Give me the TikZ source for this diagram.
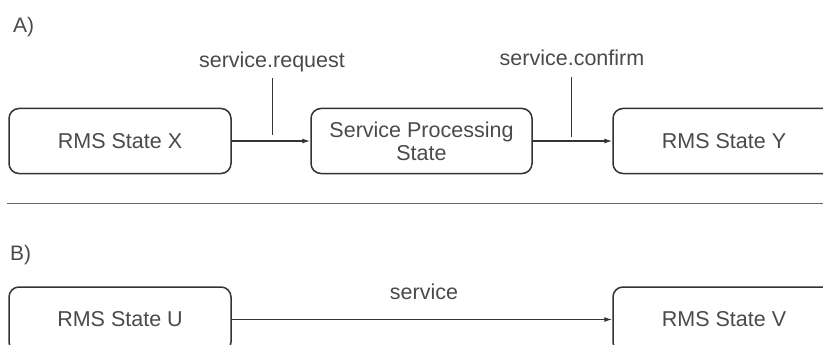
\documentclass[tikz,border=0pt]{standalone}
\usepackage{fontspec}
\setmainfont{Liberation Sans}
\usetikzlibrary{arrows.meta}
\definecolor{ink}{HTML}{333333}
\definecolor{txt}{HTML}{4a4a4a}
\definecolor{sep}{HTML}{666666}
\tikzset{
  state/.style={draw=ink, line width=1.5pt, rounded corners=10pt, minimum height=65pt, align=center, text=txt, font=\fontsize{21.5}{23}\selectfont, inner sep=0pt},
  conn/.style={draw=ink, line width=1.3pt, -{Latex[length=8pt,width=5pt]}},
  tick/.style={draw=ink, line width=1pt},
  lbl/.style={text=txt, font=\fontsize{21.5}{24}\selectfont, inner sep=0pt},
  hdr/.style={text=txt, font=\fontsize{21}{24}\selectfont, inner sep=0pt, anchor=west}
}
\begin{document}
\begin{tikzpicture}[x=1pt,y=-1pt]
\useasboundingbox (0,0) rectangle (823,345);
\clip (0,0) rectangle (823,345);
\node[hdr] (ha) at (13,27) {A)};
\node[state, minimum width=222pt] (X) at (120,141) {RMS State X};
\node[state, minimum width=221pt] (SP) at (421.5,141) {Service Processing\\State};
\node[state, minimum width=222pt] (Y) at (724,141) {RMS State Y};
\draw[conn] (X.east) -- (SP.west);
\draw[conn] (SP.east) -- (Y.west);
\node[lbl] (lr) at (272,62) {service.request};
\node[lbl] (lc) at (572,58) {service.confirm};
\coordinate (r0) at (272,78);
\coordinate (r1) at (272,135);
\coordinate (c0) at (571,77);
\coordinate (c1) at (571,137);
\draw[tick] (r0) -- (r1);
\draw[tick] (c0) -- (c1);
\coordinate (s0) at (7,203);
\coordinate (s1) at (823,203);
\draw[draw=sep, line width=1pt] (s0) -- (s1);
\node[hdr] (hb) at (10,255) {B)};
\node[state, minimum width=222pt] (U) at (120,319.5) {RMS State U};
\node[state, minimum width=222pt] (V) at (724,319.5) {RMS State V};
\draw[conn] (U.east) -- (V.west);
\node[lbl] (ls) at (424,292) {service};
\end{tikzpicture}
\end{document}
